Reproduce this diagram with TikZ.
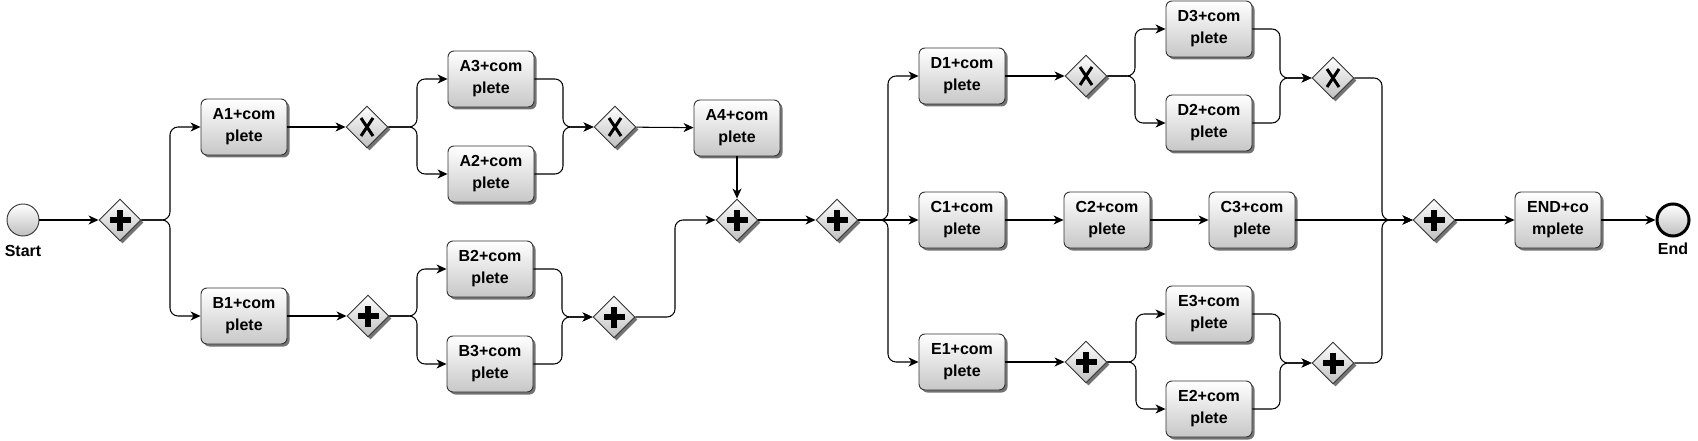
\documentclass[tikz,border=0pt]{standalone}
\usepackage{fontspec}
\setmainfont{Liberation Sans}
\usetikzlibrary{shapes.geometric,arrows.meta,shadows}
\begin{document}
\begin{tikzpicture}[x=1pt,y=-1pt,
  shad/.style={drop shadow={shadow xshift=2.5pt,shadow yshift=-2.5pt,fill=black!55,opacity=1}},
  task/.style={draw=black!80, line width=0.9pt, rounded corners=6pt, minimum width=86pt, minimum height=56pt,
    inner sep=0pt, align=center, top color=white, bottom color=black!22, shad,
    font=\fontsize{16}{22}\selectfont\bfseries},
  gw/.style={diamond, draw=black!80, line width=0.9pt, minimum width=42pt, minimum height=42pt, inner sep=0pt,
    top color=white, bottom color=black!25, shad},
  plusgw/.style={gw, path picture={\begin{scope}[shift={(path picture bounding box.center)}]
      \fill[black] (-10.5pt,-2.6pt) rectangle (10.5pt,2.6pt);
      \fill[black] (-2.6pt,-10.5pt) rectangle (2.6pt,10.5pt);
    \end{scope}}},
  xorgw/.style={gw, path picture={\begin{scope}[shift={(path picture bounding box.center)}]
      \draw[black,line width=3pt] (-6pt,-9pt) -- (6pt,9pt) (-6pt,9pt) -- (6pt,-9pt);
    \end{scope}}},
  evstart/.style={circle, draw=black!80, line width=0.9pt, minimum size=32pt, inner sep=0pt, top color=white, bottom color=black!25},
  evend/.style={circle, draw=black, line width=3pt, minimum size=32pt, inner sep=0pt, top color=white, bottom color=black!25},
  lbl/.style={font=\fontsize{16}{20}\selectfont\bfseries, inner sep=0pt},
  flow/.style={draw, line width=1.05pt, rounded corners=8pt, -{Stealth[length=10pt,width=9pt,inset=3pt]}},
]
\useasboundingbox (0,0) rectangle (1698,441);

% bus coordinates
\coordinate (s1) at (170,0);
\coordinate (sa) at (417,0);
\coordinate (ja) at (563,0);
\coordinate (sb) at (417,0);
\coordinate (jb) at (562,0);
\coordinate (bu) at (675,0);
\coordinate (sp) at (888,0);
\coordinate (sd) at (1135,0);
\coordinate (jd) at (1280,0);
\coordinate (se) at (1136,0);
\coordinate (je) at (1280,0);
\coordinate (fj) at (1382,0);

% nodes
\node[evstart] (start) at (23,220) {};
\node[lbl] (startlbl) at (23,251) {Start};
\node[plusgw] (G1) at (120,220) {};
\node[task] (A1) at (244,127) {A1+com\\plete};
\node[task] (B1) at (244,316) {B1+com\\plete};
\node[xorgw] (XA) at (367,127) {};
\node[task] (A3) at (491,79) {A3+com\\plete};
\node[task] (A2) at (491,174) {A2+com\\plete};
\node[xorgw] (XAJ) at (615,127) {};
\node[task] (A4) at (737,128) {A4+com\\plete};
\node[plusgw] (PB) at (368,316) {};
\node[task] (B2) at (490,269) {B2+com\\plete};
\node[task] (B3) at (490,364) {B3+com\\plete};
\node[plusgw] (PBJ) at (614,317) {};
\node[plusgw] (PAB) at (737,220) {};
\node[plusgw] (PS) at (837,220) {};
\node[task] (D1) at (962,76) {D1+com\\plete};
\node[task] (C1) at (962,220) {C1+com\\plete};
\node[task] (E1) at (962,362) {E1+com\\plete};
\node[xorgw] (XD) at (1086,76) {};
\node[task] (D3) at (1209,29) {D3+com\\plete};
\node[task] (D2) at (1209,123) {D2+com\\plete};
\node[xorgw] (XDJ) at (1333,78) {};
\node[task] (C2) at (1107,220) {C2+com\\plete};
\node[task] (C3) at (1252,220) {C3+com\\plete};
\node[plusgw] (PE) at (1086,362) {};
\node[task] (E3) at (1209,314) {E3+com\\plete};
\node[task] (E2) at (1209,409) {E2+com\\plete};
\node[plusgw] (PEJ) at (1333,363) {};
\node[plusgw] (PF) at (1434,220) {};
\node[task] (END) at (1558,220) {END+co\\mplete};
\node[evend] (endc) at (1673,220) {};
\node[lbl] (endlbl) at (1673,249) {End};

% connectors
\draw[flow] (start) -- (G1);
\draw[flow] (G1.east) -- (G1.east -| s1) |- (A1.west);
\draw[flow] (G1.east) -- (G1.east -| s1) |- (B1.west);
\draw[flow] (A1) -- (XA);
\draw[flow] (XA.east) -- (XA.east -| sa) |- (A3.west);
\draw[flow] (XA.east) -- (XA.east -| sa) |- (A2.west);
\draw[flow] (A3.east) -- (A3.east -| ja) |- (XAJ.west);
\draw[flow] (A2.east) -- (A2.east -| ja) |- (XAJ.west);
\draw[flow] (XAJ) -- (A4);
\draw[flow] (A4) -- (PAB);
\draw[flow] (B1) -- (PB);
\draw[flow] (PB.east) -- (PB.east -| sb) |- (B2.west);
\draw[flow] (PB.east) -- (PB.east -| sb) |- (B3.west);
\draw[flow] (B2.east) -- (B2.east -| jb) |- (PBJ.west);
\draw[flow] (B3.east) -- (B3.east -| jb) |- (PBJ.west);
\draw[flow] (PBJ.east) -- (PBJ.east -| bu) |- (PAB.west);
\draw[flow] (PAB) -- (PS);
\draw[flow] (PS.east) -- (PS.east -| sp) |- (D1.west);
\draw[flow] (PS.east) -- (C1.west);
\draw[flow] (PS.east) -- (PS.east -| sp) |- (E1.west);
\draw[flow] (D1) -- (XD);
\draw[flow] (XD.east) -- (XD.east -| sd) |- (D3.west);
\draw[flow] (XD.east) -- (XD.east -| sd) |- (D2.west);
\draw[flow] (D3.east) -- (D3.east -| jd) |- (XDJ.west);
\draw[flow] (D2.east) -- (D2.east -| jd) |- (XDJ.west);
\draw[flow] (C1) -- (C2);
\draw[flow] (C2) -- (C3);
\draw[flow] (E1) -- (PE);
\draw[flow] (PE.east) -- (PE.east -| se) |- (E3.west);
\draw[flow] (PE.east) -- (PE.east -| se) |- (E2.west);
\draw[flow] (E3.east) -- (E3.east -| je) |- (PEJ.west);
\draw[flow] (E2.east) -- (E2.east -| je) |- (PEJ.west);
\draw[flow] (XDJ.east) -- (XDJ.east -| fj) |- (PF.west);
\draw[flow] (C3) -- (PF);
\draw[flow] (PEJ.east) -- (PEJ.east -| fj) |- (PF.west);
\draw[flow] (PF) -- (END);
\draw[flow] (END) -- (endc);
\end{tikzpicture}
\end{document}
